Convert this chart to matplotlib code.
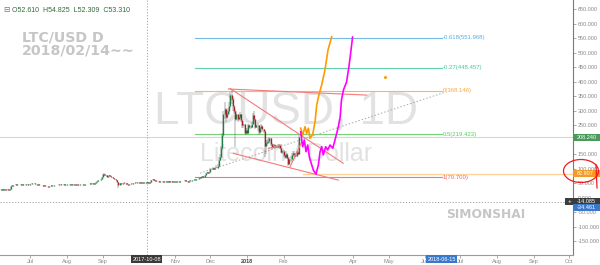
import datetime as dt
import numpy as np
import pandas as pd
import matplotlib
matplotlib.use("Agg")
import matplotlib.pyplot as plt
import matplotlib.dates as mdates
from matplotlib.patches import Rectangle, Ellipse
from matplotlib.lines import Line2D
from matplotlib.ticker import FixedLocator, FuncFormatter
from matplotlib.transforms import Bbox

plt.rcParams['font.family'] = ['Liberation Sans', 'DejaVu Sans']

# ---------------- data ----------------
start_date = "2017-06-06"
close_2017_06 = [28, 29, 28, 29, 30, 29, 28, 28, 30, 41, 44, 43, 45, 46, 45, 44, 45, 46, 47, 45, 44, 45, 46, 44, 45]
close_2017_07 = [46, 49, 52, 50, 48, 47, 46, 46, 45, 44, 44, 43, 42, 41, 40, 39, 40, 41, 42, 43, 44, 44, 45, 44, 45, 46, 45, 44, 45, 46, 45]
close_2017_08 = [45, 44, 45, 46, 46, 45, 46, 47, 46, 47, 46, 47, 48, 47, 46, 47, 47, 48, 47, 48, 49, 50, 48, 49, 52, 55, 58, 60, 62, 66, 72]
close_2017_09 = [82, 78, 80, 72, 74, 78, 76, 70, 68, 66, 64, 60, 55, 45, 50, 48, 47, 52, 51, 50, 47, 46, 48, 47, 49, 50, 52, 51, 51, 53]
close_2017_10 = [54, 53, 52, 52, 51, 52, 52.61, 53.31, 52, 51, 55, 61, 64, 62, 59, 58, 57, 56, 57, 58, 57, 56, 55, 55, 56, 57, 56, 57, 56, 55, 55]
close_2017_11 = [55, 56, 55, 56, 57, 58, 57, 59, 60, 58, 57, 56, 58, 60, 61, 62, 62, 63, 64, 66, 68, 70, 72, 74, 73, 78, 84, 90, 86, 90]
close_2017_12 = [98, 100, 101, 99, 102, 104, 110, 130, 140, 170, 215, 290, 305, 280, 290, 300, 315, 355, 340, 315, 300, 270, 290, 272, 280, 290, 268, 250, 255, 225, 232]
close_2018_01 = [225, 250, 245, 245, 255, 285, 270, 245, 250, 252, 228, 240, 248, 236, 230, 180, 190, 192, 195, 205, 185, 175, 178, 182, 178, 176, 180, 183, 172, 158, 162]
close_2018_02 = [148, 142, 152, 138, 118, 135, 132, 148, 155, 150, 145, 158, 152, 208.24]
first_open = 28

# wicks from 2017-12-01 onwards
wick_start = "2017-12-01"
high_2017_12 = [102, 104, 105, 104, 105, 112, 115, 140, 150, 178, 225, 300, 330, 310, 300, 310, 330, 365, 372, 345, 320, 305, 300, 290, 285, 295, 290, 270, 265, 255, 240]
low_2017_12 = [88, 95, 97, 95, 98, 101, 102, 108, 128, 138, 165, 210, 270, 260, 270, 285, 290, 310, 325, 300, 290, 175, 265, 262, 265, 270, 262, 240, 240, 220, 218]
high_2018_01 = [240, 255, 255, 250, 262, 292, 298, 272, 255, 258, 252, 245, 255, 250, 238, 232, 198, 200, 205, 210, 206, 188, 185, 186, 185, 182, 184, 186, 184, 174, 165]
low_2018_01 = [220, 222, 238, 238, 240, 255, 262, 238, 240, 230, 215, 220, 238, 228, 225, 140, 150, 178, 185, 190, 180, 168, 168, 172, 170, 170, 172, 175, 168, 155, 150]
high_2018_02 = [165, 150, 160, 155, 140, 140, 145, 155, 162, 160, 154, 162, 162, 218]
low_2018_02 = [140, 135, 138, 132, 108, 115, 125, 128, 145, 142, 140, 142, 148, 150]
extra_wick_dates = ["2017-09-02", "2017-09-14", "2017-10-08"]
extra_wick_high = [86, 52, 54.825]
extra_wick_low = [75, 35, 52.309]

# Fibonacci retracement
fib_ratios = [-0.618, -0.27, 0, 0.5, 1]
fib_prices = [551.968, 448.457, 368.146, 219.423, 70.700]
fib_colors = ['#5aaee0', '#45cc9e', '#f5a94a', '#5ccc5c', '#f06060']
fib_start = "2017-11-18"
fib_end = "2018-06-15"

# trend lines (days after 2018-01-01, price)
trend_lines = [
    ((-14.4, 377), (81.6, 119)),
    ((-15.9, 375), (101.5, 354)),
    ((-11.6, 153), (77.4, 61)),
    ((36.5, 107), (46.4, 193)),
    ((18.1, 170), (29.4, 182)),
]
dotted_line = ((-39.8, 85), (167.9, 364))

# projected paths (days after 2018-01-01, price)
orange_days = [45.5, 47.2, 49.2, 50.6, 52.0, 53.4, 55.7, 57.7, 59.1, 61.0, 63.3, 66.1, 68.7, 71.8]
orange_price = [240, 216, 245, 222, 240, 205, 219, 262, 320, 355, 389, 441, 510, 555]
magenta_days = [45.5, 47.2, 48.6, 50.0, 51.5, 52.8, 54.9, 56.4, 58.5, 60.5, 61.9, 63.3, 64.7, 66.7,
                68.4, 70.4, 72.7, 74.6, 77.2, 78.9, 80.1, 81.8, 84.4, 86.5, 88.2, 89.5]
magenta_price = [228, 176, 199, 159, 182, 142, 113, 94, 82, 113, 158, 176, 148, 176,
                 165, 182, 171, 199, 241, 275, 337, 372, 399, 454, 510, 554]
dot_day, dot_price = 117, 416

last_price = 208.240
support_price = 82.907
support_start_day = 47.5
cross_date = "2017-10-08"
cross_price = -14.085
blue_price = -34.461
blue_date = "2018-06-15"

ytick_values = [-150, -100, -50, 0, 50, 100, 150, 200, 250, 300, 350, 400, 450, 500, 550, 600, 650]
ytick_hidden = [200]          # covered by the last-price tag in the reference
xtick_dates = ["2017-07-01", "2017-08-01", "2017-09-01", "2017-10-01", "2017-11-01", "2017-12-01",
               "2018-01-01", "2018-02-01", "2018-04-01", "2018-05-01", "2018-06-01", "2018-07-01",
               "2018-08-01", "2018-09-01", "2018-10-01"]
xtick_labels = ["Jul", "Aug", "Sep", "", "Nov", "Dec", "2018", "Feb", "Apr", "May", "Jun", "Jul",
                "Aug", "Sep", "Oct"]

# ---------------- build ----------------
closes = np.array(close_2017_06 + close_2017_07 + close_2017_08 + close_2017_09 + close_2017_10 +
                  close_2017_11 + close_2017_12 + close_2018_01 + close_2018_02, dtype=float)
dates = pd.date_range(start_date, periods=len(closes), freq="D")
opens = np.concatenate([[first_open], closes[:-1]])
highs = np.maximum(opens, closes)
lows = np.minimum(opens, closes)
w0 = dates.get_loc(pd.Timestamp(wick_start))
hi_list = np.array(high_2017_12 + high_2018_01 + high_2018_02, dtype=float)
lo_list = np.array(low_2017_12 + low_2018_01 + low_2018_02, dtype=float)
highs[w0:w0 + len(hi_list)] = np.maximum(highs[w0:w0 + len(hi_list)], hi_list)
lows[w0:w0 + len(lo_list)] = np.minimum(lows[w0:w0 + len(lo_list)], lo_list)
for d, h, l in zip(extra_wick_dates, extra_wick_high, extra_wick_low):
    i = dates.get_loc(pd.Timestamp(d))
    highs[i] = max(highs[i], h)
    lows[i] = min(lows[i], l)

W, H = 600, 265
AX_W, AX_H = 573, 255
PXD = 1.1794          # pixels per day
UPP = 3.447           # price units per pixel

fig = plt.figure(figsize=(6, 2.65), dpi=100)
fig.patch.set_facecolor('white')
ax = fig.add_axes([0, (H - AX_H) / H, AX_W / W, AX_H / H])

x_left = mdates.date2num(dt.datetime(2017, 7, 1)) - 30 / PXD
ax.set_xlim(x_left, x_left + AX_W / PXD)
ax.set_ylim(-197.2, 681.8)

base = mdates.date2num(dt.datetime(2018, 1, 1))
def dx(days):
    return base + np.asarray(days, dtype=float)

# watermarks
ax.text(0.5, 0.559, "LTCUSD, 1D", transform=ax.transAxes, ha='center', va='center',
        fontsize=33, color='#e2e2e2', zorder=0)
ax.text(0.5, 0.396, "Litecoin / Dollar", transform=ax.transAxes, ha='center', va='center',
        fontsize=18, color='#e2e2e2', zorder=0)
ax.text(22 / AX_W, 1 - 41.7 / AX_H, "LTC/USD D", transform=ax.transAxes, ha='left', va='baseline',
        fontsize=10.2, fontweight='bold', color='#c6c6c6', family=['DejaVu Sans'], zorder=1)
ax.text(22 / AX_W, 1 - 54.3 / AX_H, "2018/02/14~~", transform=ax.transAxes, ha='left', va='baseline',
        fontsize=10.2, fontweight='bold', color='#c6c6c6', family=['DejaVu Sans'], zorder=1)
ax.text(486 / AX_W, 1 - 218.5 / AX_H, "SIMONSHAI", transform=ax.transAxes, ha='center', va='baseline',
        fontsize=8.8, fontweight='bold', color='#c6c6c6', family=['DejaVu Sans'], zorder=1)

# header
ax.text(3 / AX_W, 1 - 11.7 / AX_H, "\u229f", transform=ax.transAxes, ha='left', va='baseline',
        fontsize=5.5, color='#777777', family=['DejaVu Sans'])
ax.text(12 / AX_W, 1 - 11.7 / AX_H, "O52.610  H54.825  L52.309  C53.310", transform=ax.transAxes,
        ha='left', va='baseline', fontsize=5.0, color='#2f6a3c')

# horizontal reference lines
ax.axhline(last_price, color='#cddcd0', lw=0.8, zorder=1)
ax.plot([dx(support_start_day), x_left + AX_W / PXD], [support_price, support_price],
        color='#ffd29a', lw=1.0, zorder=1)
ax.axhline(cross_price, color='#9a9a9a', lw=0.6, ls=(0, (1.5, 2)), zorder=1)
ax.axvline(mdates.date2num(pd.Timestamp(cross_date)), color='#9a9a9a', lw=0.6, ls=(0, (1.5, 2)), zorder=1)

# fib
fs, fe = mdates.date2num(pd.Timestamp(fib_start)), mdates.date2num(pd.Timestamp(fib_end))
for r, p, c in zip(fib_ratios, fib_prices, fib_colors):
    ax.plot([fs, fe], [p, p], color=c, lw=0.8, alpha=0.85, zorder=2)
    ax.text(fe + 0.8, p, f"{r:g}({p:.3f})", ha='left', va='center', fontsize=4.3, color=c, zorder=2)

# dotted trend
(d0, p0), (d1, p1) = dotted_line
ax.plot(dx([d0, d1]), [p0, p1], color='#a8a8a8', lw=0.7, ls=(0, (1.5, 2)), zorder=2)

# candles
x = mdates.date2num(dates)
up = closes >= opens
ax.vlines(x, lows, highs, colors='#555555', lw=0.35, zorder=3)
blo = np.minimum(opens, closes)
bhi = np.maximum(opens, closes)
small = (bhi - blo) < 2.6
mid = (bhi + blo) / 2
blo = np.where(small, mid - 1.3, blo)
bhi = np.where(small, mid + 1.3, bhi)
ax.vlines(x[up], blo[up], bhi[up], colors='#1d7f45', lw=0.95, zorder=4)
ax.vlines(x[~up], blo[~up], bhi[~up], colors='#a32424', lw=0.95, zorder=4)

# trend lines
for (a, pa), (b, pb) in trend_lines:
    ax.plot(dx([a, b]), [pa, pb], color='#f27b7b', lw=0.8, zorder=5)

# projections
ax.plot(dx(orange_days), orange_price, color='#ff9a00', lw=1.2, zorder=6)
ax.plot(dx(magenta_days), magenta_price, color='#ff00ff', lw=1.2, zorder=6)
ax.plot(dx([dot_day]), [dot_price], 'o', ms=1.2, color='#ff9a00', zorder=6)

# axes styling
for s in ['top', 'left']:
    ax.spines[s].set_visible(False)
ax.spines['right'].set_color('#7a7a7a')
ax.spines['right'].set_linewidth(0.8)
ax.spines['bottom'].set_color('#9a9a9a')
ax.spines['bottom'].set_linewidth(0.8)

ax.yaxis.tick_right()
ax.yaxis.set_major_locator(FixedLocator(ytick_values))
ax.yaxis.set_major_formatter(FuncFormatter(lambda v, pos: "" if round(v) in ytick_hidden else f"{v:.3f}"))
ax.tick_params(axis='y', length=2, width=0.5, pad=1.5, labelsize=4, labelcolor='#8a8a8a', color='#888888')
xt = [mdates.date2num(pd.Timestamp(d)) for d in xtick_dates]
ax.set_xticks(xt)
ax.set_xticklabels(xtick_labels)
ax.tick_params(axis='x', length=2, width=0.5, pad=1.2, labelsize=4, labelcolor='#8a8a8a', color='#888888')
clipbox = Bbox.from_extents(0, 0, 572.5, 265)
for lbl in ax.get_xticklabels():
    if lbl.get_text() == "2018":
        lbl.set_fontweight('bold')
        lbl.set_color('#444444')
    lbl.set_clip_box(clipbox)
    lbl.set_clip_on(True)

# price tags on right axis
ytr = ax.get_yaxis_transform()
def price_tag(value, text, color, x0px=573, plus=False):
    h = 7 * UPP
    ax.add_patch(Rectangle(((x0px) / AX_W, value - h / 2), (600 - x0px) / AX_W, h, transform=ytr,
                           facecolor=color, edgecolor='none', clip_on=False, zorder=10))
    ax.text(577 / AX_W, value, text, transform=ytr, ha='left', va='center', fontsize=4,
            color='white', clip_on=False, zorder=11)
    if plus:
        ax.text(569.5 / AX_W, value, "+", transform=ytr, ha='center', va='center', fontsize=4.5,
                color='white', clip_on=False, zorder=11)

price_tag(last_price, f"{last_price:.3f}", '#4a9a5c')
price_tag(support_price, f"{support_price:.3f}", '#f59a23')
price_tag(cross_price, f"{cross_price:.3f}", '#3c3c3c', x0px=565, plus=True)
price_tag(blue_price, f"{blue_price:.3f}", '#3a78c9')

# date tags on x axis
xtr = ax.get_xaxis_transform()
ax.text(mdates.date2num(pd.Timestamp(cross_date)), -4.3 / AX_H, cross_date, transform=xtr,
        ha='center', va='center', fontsize=4, color='white', clip_on=False, zorder=11,
        bbox=dict(boxstyle='square,pad=0.25', fc='#3a3a3a', ec='none'))
ax.text(mdates.date2num(pd.Timestamp(blue_date)), -4.3 / AX_H, blue_date, transform=xtr,
        ha='center', va='center', fontsize=4, color='white', clip_on=False, zorder=11,
        bbox=dict(boxstyle='square,pad=0.25', fc='#3a78c9', ec='none'))

# hand-drawn red circle around price axis
fig.add_artist(Ellipse((581 / W, 1 - 171 / H), 35 / W, 23 / H, fill=False, edgecolor='#ee1c1c', lw=0.9))
fig.add_artist(Line2D([596 / W, 597 / W], [1 - 165 / H, 1 - 188 / H], color='#ee1c1c', lw=0.9))

fig.savefig("out.png", dpi=100)
